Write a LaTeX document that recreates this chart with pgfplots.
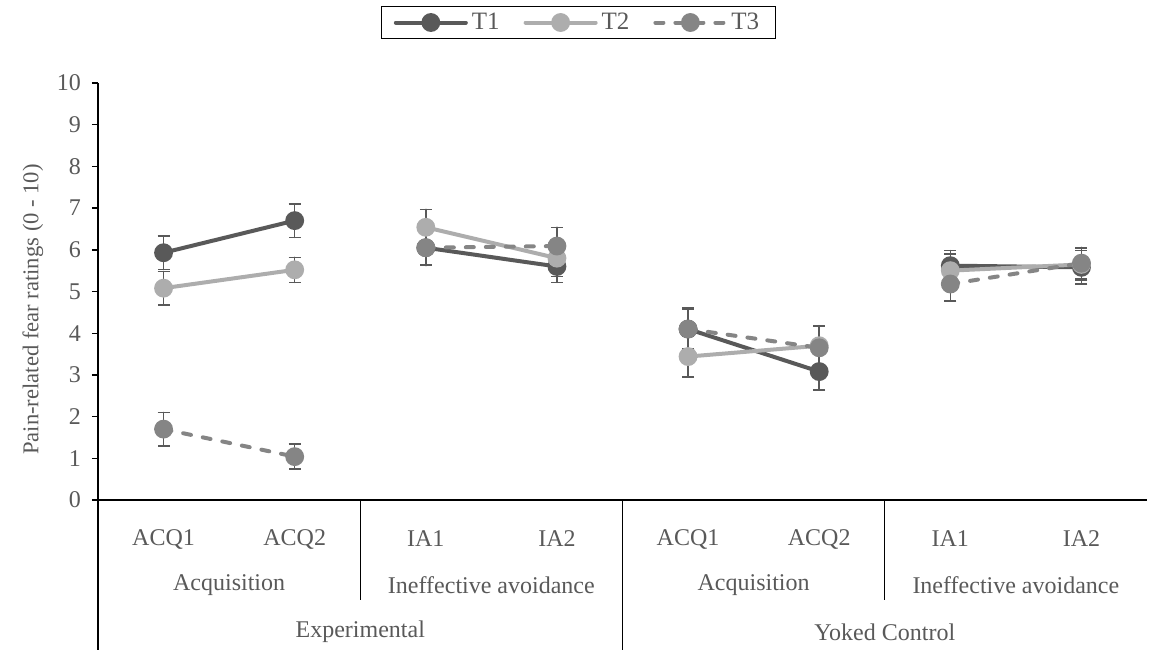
\documentclass[border=0pt]{standalone}
\usepackage{pgfplots}
\pgfplotsset{compat=1.18}
\usepackage{fontspec}
\setmainfont{Liberation Serif}
\definecolor{cT1}{HTML}{595959}
\definecolor{cT2}{HTML}{ADADAD}
\definecolor{cT3}{HTML}{858585}
\definecolor{txt}{HTML}{595959}
\newcommand{\lfont}{\fontsize{12}{14}\selectfont}
\begin{document}
\begin{tikzpicture}
\path (-49pt,-77.5pt) rectangle (525.5pt,250pt);
\begin{axis}[
  at={(0,0)}, anchor=south west,
  scale only axis, width=524.5pt, height=208.5pt,
  xmin=-0.5, xmax=7.5, ymin=0, ymax=10,
  axis x line*=bottom, axis y line*=left,
  axis line style={black, line width=0.9pt},
  y axis line style={line width=0.7pt},
  ytick={0,...,10},
  ytick style={black, line width=0.7pt},
  tick align=outside, major tick length=3pt,
  yticklabel style={font=\lfont, text=txt, xshift=-2pt},
  xtick={0,...,7},
  xticklabels={ACQ1,ACQ2,IA1,IA2,ACQ1,ACQ2,IA1,IA2},
  x tick style={draw=none},
  xticklabel style={font=\lfont, text=txt, anchor=center, yshift=-16.5pt},
  /pgf/number format/assume math mode=true,
  ylabel={Pain-related fear ratings (0 - 10)},
  ylabel style={font=\fontsize{11.3}{13}\selectfont, text=txt},
  every axis y label/.append style={at={(ticklabel cs:0.5)}, anchor=south, xshift=-9pt},
  clip=false,
  unbounded coords=jump,
  legend style={at={(240.25pt,238.75pt)}, anchor=center, draw=black, line width=0.6pt,
    font=\fontsize{12.5}{14}\selectfont, text=txt, legend columns=3,
    /tikz/every even column/.append style={column sep=10pt}, inner ysep=1pt, inner xsep=6pt},
  legend image code/.code={\draw[mark repeat=2,mark phase=2,#1] plot coordinates {(0pt,0pt)(17.5pt,0pt)(35pt,0pt)};},
  error bars/y dir=both, error bars/y explicit,
  error bars/error bar style={color=cT1, line width=0.75pt, solid},
  error bars/error mark options={rotate=90, mark size=3pt, color=cT1, line width=0.75pt},
]
\addplot[cT1, line width=2pt, mark=*, mark size=3.7pt, mark options={solid, fill=cT1, draw=cT1}, line cap=round]
  table[x=x, y=y, y error=e] {
x y e
0 5.93 0.40
1 6.70 0.40
1.5 nan 0
2 6.05 0.43
3 5.60 0.38
3.5 nan 0
4 4.10 0.48
5 3.08 0.44
5.5 nan 0
6 5.62 0.36
7 5.58 0.40
};
\addlegendentry{T1}
\addplot[cT2, line width=2pt, mark=*, mark size=3.7pt, mark options={solid, fill=cT2, draw=cT2}, line cap=round]
  table[x=x, y=y, y error=e] {
x y e
0 5.08 0.40
1 5.52 0.30
1.5 nan 0
2 6.54 0.43
3 5.80 0.44
3.5 nan 0
4 3.44 0.49
5 3.70 0.48
5.5 nan 0
6 5.50 0.40
7 5.65 0.38
};
\addlegendentry{T2}
\addplot[cT3, line width=2pt, dash pattern=on 4pt off 6pt, line cap=round, mark=*, mark size=3.7pt, mark options={solid, fill=cT3, draw=cT3}]
  table[x=x, y=y, y error=e] {
x y e
0 1.70 0.40
1 1.04 0.30
1.5 nan 0
2 6.05 0.40
3 6.09 0.45
3.5 nan 0
4 4.10 0.50
5 3.65 0.52
5.5 nan 0
6 5.18 0.41
7 5.68 0.38
};
\addlegendentry{T3}
% multi-level category separators
\draw[black, line width=0.7pt] (axis cs:-0.5,0) -- ([yshift=-75pt]axis cs:-0.5,0);
\draw[black, line width=0.7pt] (axis cs:1.5,0) -- ([yshift=-50pt]axis cs:1.5,0);
\draw[black, line width=0.7pt] (axis cs:3.5,0) -- ([yshift=-75pt]axis cs:3.5,0);
\draw[black, line width=0.7pt] (axis cs:5.5,0) -- ([yshift=-50pt]axis cs:5.5,0);
\begin{scope}[every node/.style={font=\lfont, text=txt}]
\node at ([yshift=-42.5pt]axis cs:0.5,0) {Acquisition};
\node at ([yshift=-42.5pt]axis cs:2.5,0) {Ineffective avoidance};
\node at ([yshift=-42.5pt]axis cs:4.5,0) {Acquisition};
\node at ([yshift=-42.5pt]axis cs:6.5,0) {Ineffective avoidance};
\node at ([yshift=-66pt]axis cs:1.5,0) {Experimental};
\node at ([yshift=-66pt]axis cs:5.5,0) {Yoked Control};
\end{scope}
\end{axis}
\end{tikzpicture}
\end{document}
